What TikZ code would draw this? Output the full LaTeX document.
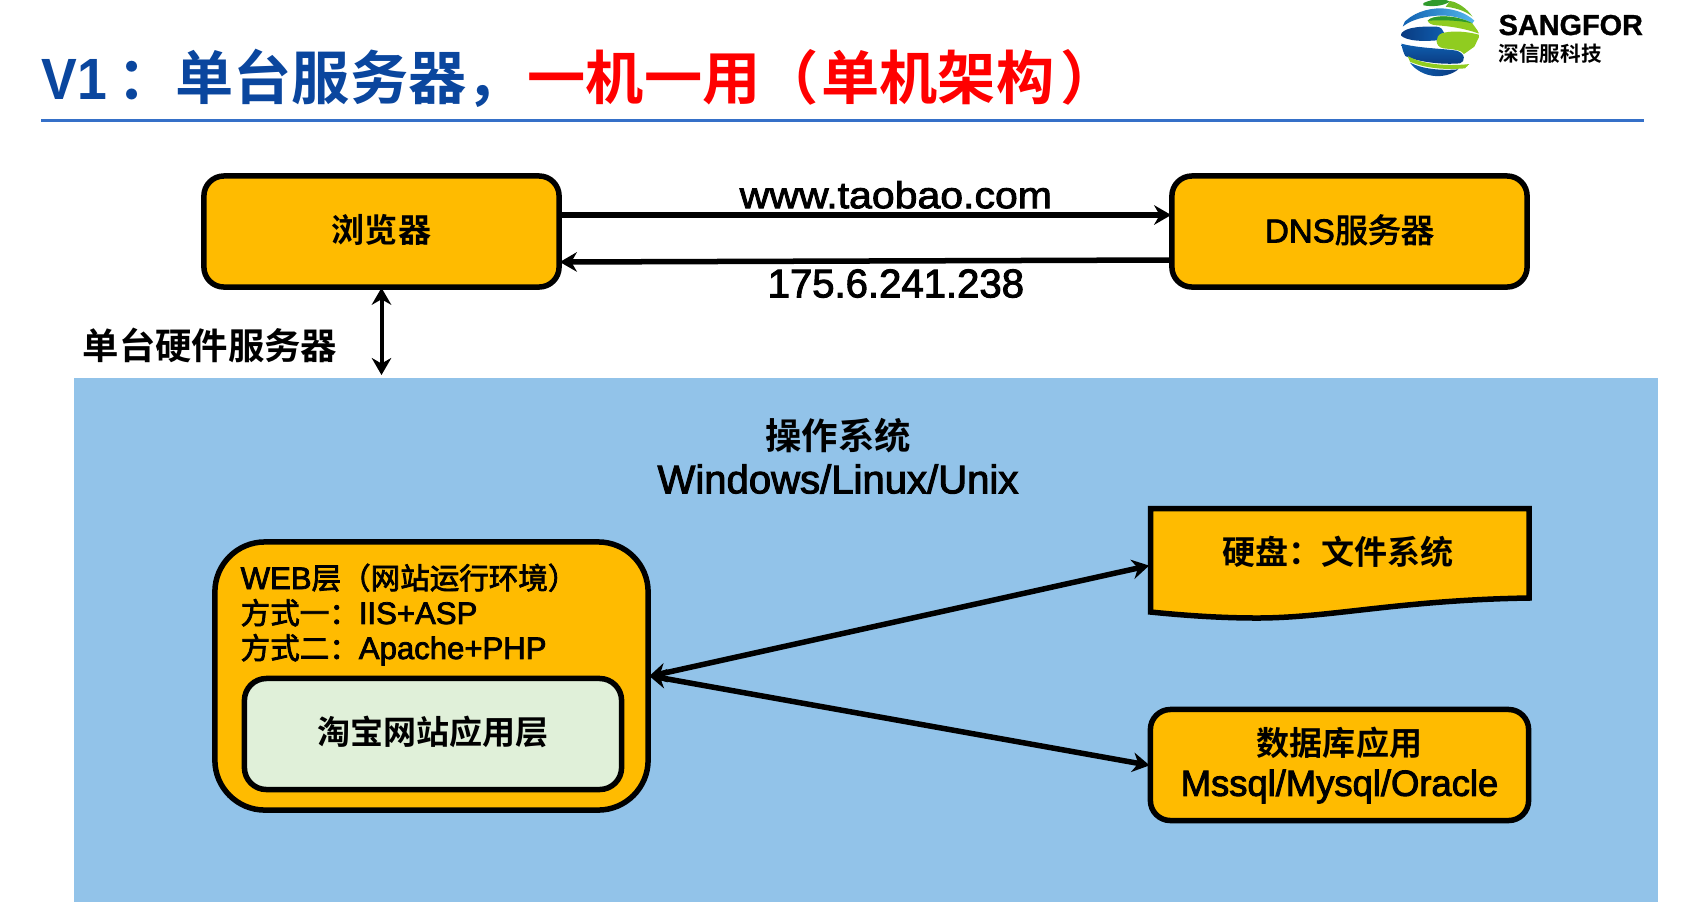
\documentclass[tikz,border=0pt]{standalone}
\usepackage{fontspec}
\setmainfont[FakeBold=2.5]{Liberation Sans}
\newfontfamily\titlelatin[FakeStretch=.92]{Liberation Sans Bold}
\newfontfamily\zh[BoldFont={Noto Sans CJK SC Bold}]{Noto Sans CJK SC}
\newfontfamily\zhmid[FakeBold=2.5]{Noto Sans CJK SC}
\newfontfamily\wide[FakeStretch=1.1,FakeBold=2.5]{Liberation Sans}
\newfontfamily\logofont[FakeBold=1.2]{Liberation Sans Bold}
\usetikzlibrary{arrows.meta}
\tikzset{>={Stealth[length=3.4mm*.5,width=3.9mm*.5]}}
\definecolor{boxorange}{HTML}{FFBB00}
\definecolor{paleblue}{HTML}{92C3E9}
\definecolor{palegreen}{HTML}{E0F0D9}
\definecolor{titleblue}{HTML}{0A469E}
\definecolor{ruleblue}{HTML}{3570C8}
\definecolor{logoblue}{HTML}{0F5FB0}
\definecolor{logonavy}{HTML}{0A3A80}
\definecolor{logosky}{HTML}{55B8EC}
\definecolor{logogreen}{HTML}{2F9A2C}
\definecolor{logolime}{HTML}{90CC20}
\tikzset{
  box/.style={draw=black, line width=.055cm, fill=boxorange, rounded corners=.2cm},
  link/.style={line width=.055cm, <->, shorten >=-.02cm, shorten <=-.02cm},
  oneway/.style={line width=.055cm, ->, shorten >=-.02cm},
  zhlabel/.style={font=\fontsize{9.4pt}{11pt}\selectfont\zh\bfseries},
  zhbig/.style={font=\fontsize{10.35pt}{12pt}\selectfont\zh\bfseries}
}
\begin{document}
\begin{tikzpicture}[x=.01cm, y=-.01cm]
  \useasboundingbox (0,0) rectangle (1696,902);
  % title
  \node[anchor=base west, inner sep=0, font=\fontsize{16.55pt}{18pt}\selectfont\titlelatin, text=titleblue] (title) at (41,99)
    {V1\hspace{.1cm}{\zh\bfseries：单台服务器，}\hspace{.03cm}\textcolor{red}{\zh\bfseries 一机一用（\hspace{.03cm}单机架构\hspace{.06cm}）}};
  \fill[ruleblue] (41,119) rectangle (1644,122);
  % logo
  \begin{scope}[shift={(1395,0)}, x=.01cm/3, y=-.01cm/3]
    \clip (135,115) circle (117);
    \fill[logogreen] (85,6) .. controls (110,-5) and (150,-5) .. (165,5) .. controls (140,20) and (110,20) .. (85,16) -- cycle;
    \fill[logolime!70!logogreen] (165,3) .. controls (195,8) and (220,25) .. (235,52) .. controls (215,35) and (190,25) .. (152,20) -- cycle;
    \shade[left color=logoblue, right color=logosky] (20,75) .. controls (50,38) and (100,24) .. (140,25) .. controls (180,27) and (215,40) .. (238,62) -- (232,70) .. controls (190,48) and (150,42) .. (100,50) .. controls (70,55) and (45,62) .. (20,82) -- cycle;
    \fill[logolime] (98,62) .. controls (110,45) and (180,42) .. (232,70) -- (255,102) .. controls (210,85) and (160,78) .. (125,76) .. controls (110,75) and (100,70) .. (98,62) -- cycle;
    \fill[logogreen] (98,62) .. controls (110,45) and (180,42) .. (232,70) .. controls (190,60) and (140,60) .. (98,62) -- cycle;
    \shade[left color=logonavy, right color=logoblue] (16,105) .. controls (25,85) and (60,78) .. (125,80) .. controls (150,82) and (155,112) .. (135,120) .. controls (90,125) and (35,125) .. (16,105) -- cycle;
    \fill[logolime] (255,105) .. controls (210,92) and (165,92) .. (140,100) .. controls (120,108) and (118,140) .. (145,145) .. controls (175,148) and (200,150) .. (207,162) -- (238,140) -- cycle;
    \shade[top color=logoblue, bottom color=logonavy] (15,130) .. controls (70,145) and (140,145) .. (185,152) .. controls (212,160) and (212,185) .. (195,190) .. controls (140,195) and (60,185) .. (25,165) -- cycle;
    \fill[logolime] (38,168) .. controls (80,192) and (150,200) .. (225,192) -- (210,205) .. controls (150,210) and (90,205) .. (45,185) -- cycle;
    \shade[left color=logoblue, right color=logonavy] (45,188) .. controls (85,208) and (140,212) .. (190,208) .. controls (150,240) and (80,235) .. (45,188) -- cycle;
  \end{scope}
  \node[anchor=base west, inner sep=0, font=\fontsize{8.2pt}{10pt}\selectfont\logofont] (sangfor) at (1498,35) {SANGFOR};
  \node[anchor=base west, inner sep=0, font=\fontsize{5.85pt}{7pt}\selectfont\zh\bfseries] (sangforzh) at (1498,61) {深信服科技};
  % background
  \fill[paleblue] (74,377.5) rectangle (1658,902);
  % top row
  \node[box, minimum width=3.55cm, minimum height=1.11cm, zhlabel] (browser) at (381.5,231.5) {\raisebox{.06cm}{浏览器}};
  \node[box, minimum width=3.55cm, minimum height=1.11cm, font=\fontsize{9.4pt}{11pt}\selectfont] (dns) at (1349.5,231.5) {\raisebox{.06cm}{DNS{\zhmid 服务器}}};
  \coordinate (browserup) at (browser.east |- 0,215);
  \coordinate (dnsup) at (dns.west |- 0,215);
  \coordinate (dnslow) at (dns.west |- 0,260);
  \coordinate (browserlow) at (browser.east |- 0,262);
  \draw[oneway] (browserup) -- (dnsup) node[pos=.55, above=-.08cm, font=\fontsize{10.6pt}{12pt}\selectfont\wide] (hostname) {www.taobao.com};
  \draw[oneway] (dnslow) -- (browserlow) node[pos=.45, below=-.06cm, font=\fontsize{11.4pt}{12pt}\selectfont] (hostip) {175.6.241.238};
  \coordinate (hwtop) at (browser.south |- 0,373);
  \draw[link, line width=.04cm] (browser) -- (hwtop);
  \node[zhbig] (hardware) at (210,345) {单台硬件服务器};
  % operating system
  \node[zhbig, align=center, inner sep=0] (os) at (838,436) {操作系统};
  \node[font=\fontsize{11.4pt}{13pt}\selectfont, inner sep=0] (osname) at (838,479) {Windows/Linux/Unix};
  % web layer
  \node[box, minimum width=4.33cm, minimum height=2.68cm, rounded corners=.5cm] (web) at (431.5,676) {};
  \node[anchor=north west, inner sep=0, align=left, font=\fontsize{8.85pt}{9.95pt}\selectfont] (weblabel) at (240,563)
    {WEB{\zhmid\fontsize{8.4pt}{9.95pt}\selectfont 层（网站运行环境）}\\{\zhmid\fontsize{8.4pt}{9.95pt}\selectfont 方式一：}IIS+ASP\\{\zhmid\fontsize{8.4pt}{9.95pt}\selectfont 方式二：}Apache+PHP};
  \node[box, fill=palegreen, minimum width=3.77cm, minimum height=1.11cm, rounded corners=.22cm, zhlabel] (app) at (433,734) {\raisebox{.07cm}{淘宝网站应用层}};
  % disk
  \draw[line width=.055cm, fill=boxorange] (1150.5,508.5) -- (1529,508.5) -- (1529,598)
    .. controls (1400,600) and (1330,618) .. (1257,618)
    .. controls (1225,618) and (1190,616) .. (1150.5,612) -- cycle;
  \node[inner sep=0, minimum width=3.83cm, minimum height=.1cm] (disk) at (1339.5,566) {};
  \node[zhlabel] (disklabel) at (1338,552) {硬盘：文件系统};
  % database
  \node[box, align=center, minimum width=3.78cm, minimum height=1.11cm, font=\fontsize{10.35pt}{11.6pt}\selectfont] (db) at (1339.5,765)
    {{\zh\bfseries\fontsize{9.4pt}{11.6pt}\selectfont 数据库应用}\\Mssql/Mysql/Oracle};
  % links
  \draw[link] (web.east) -- (disk.west);
  \draw[link] (web.east) -- (db.west);
\end{tikzpicture}
\end{document}
